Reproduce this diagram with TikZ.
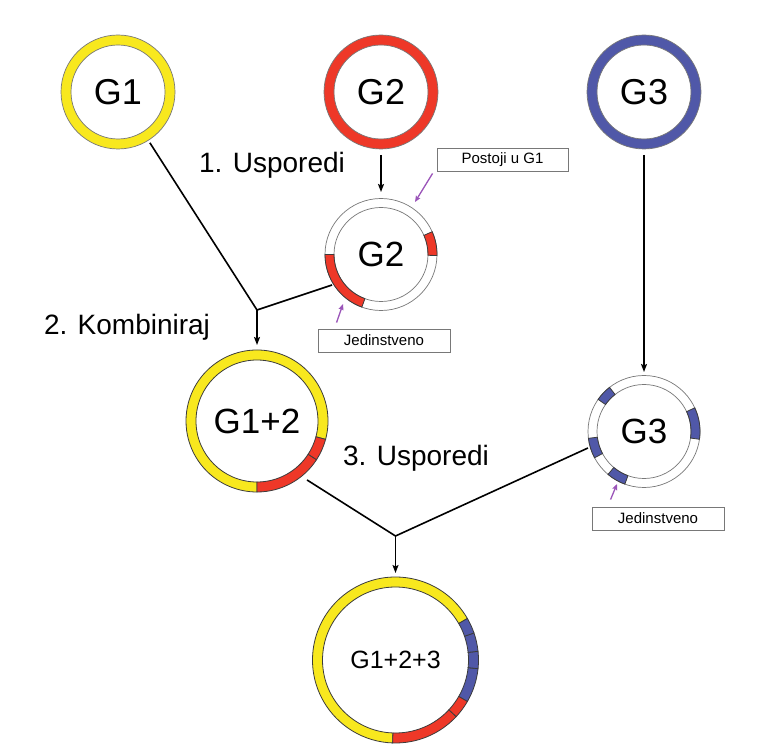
\documentclass[tikz,border=0pt]{standalone}
\usepackage{fontspec}
\setmainfont{Liberation Sans}
\usetikzlibrary{arrows.meta,calc}
\definecolor{gyel}{RGB}{248,232,30}
\definecolor{gred}{RGB}{238,56,40}
\definecolor{gblue}{RGB}{80,88,168}
\definecolor{ringgray}{RGB}{120,120,120}
\definecolor{segline}{RGB}{60,60,60}
\definecolor{arrpurple}{RGB}{155,85,185}
\newcommand\ringseg[6]{%
  \filldraw[fill=#6,draw=segline,line width=0.8pt] ([shift={(#2:#4)}]#1) arc[start angle=#2,end angle=#3,radius=#4] -- ([shift={(#3:#5)}]#1) arc[start angle=#3,end angle=#2,radius=#5] -- cycle;}
\newcommand\fullring[4]{%
  \fill[#4,even odd rule] (#1) circle[radius=#2] (#1) circle[radius=#3];
  \draw[ringgray,line width=0.7pt] (#1) circle[radius=#2] (#1) circle[radius=#3];}
\begin{document}
\begin{tikzpicture}[x=1pt,y=1pt,
  genome/.style={circle,inner sep=0pt,outer sep=0pt,text=black},
  steplabel/.style={anchor=base,font=\fontsize{28}{28}\selectfont},
  labelbox/.style={draw=ringgray,line width=0.9pt,fill=white,minimum width=131pt,minimum height=23pt,inner sep=0pt,font=\fontsize{15}{15}\selectfont},
  conn/.style={line width=1.6pt,black},
  arr/.style={conn,-{Stealth[length=8pt,width=6pt,inset=1.5pt]}},
  parr/.style={line width=1.3pt,arrpurple,-{Stealth[length=6pt,width=5pt,inset=1pt]}}]
\fill[white] (0,0) rectangle (770,750);
\useasboundingbox (0,0) rectangle (770,750);

% genome nodes
\node[genome,minimum size=114pt,font=\fontsize{36}{36}\selectfont] (g1) at (118,658) {};
\node[genome,minimum size=114pt,font=\fontsize{36}{36}\selectfont] (g2a) at (381,658) {};
\node[genome,minimum size=114pt,font=\fontsize{36}{36}\selectfont] (g3a) at (644,658) {};
\node[genome,minimum size=112pt,font=\fontsize{35}{35}\selectfont] (g2b) at (381,495.5) {};
\node[genome,minimum size=112pt,font=\fontsize{35}{35}\selectfont] (g3b) at (644,318.5) {};
\node[genome,minimum size=142pt,font=\fontsize{35}{35}\selectfont] (g12) at (257,329) {};
\node[genome,minimum size=166pt,font=\fontsize{25}{25}\selectfont] (g123) at (395.5,90) {};

% rings
\fullring{g1.center}{57}{47}{gyel}
\fullring{g2a.center}{57}{47}{gred}
\fullring{g3a.center}{57}{47}{gblue}
\fullring{g2b.center}{56}{47}{white}
\ringseg{g2b.center}{180}{250}{56}{47}{gred}
\ringseg{g2b.center}{-1}{24}{56}{47}{gred}
\fullring{g3b.center}{56}{47}{white}
\ringseg{g3b.center}{128}{145}{56}{47}{gblue}
\ringseg{g3b.center}{-8}{25}{56}{47}{gblue}
\ringseg{g3b.center}{187}{208}{56}{47}{gblue}
\ringseg{g3b.center}{230}{250}{56}{47}{gblue}
\ringseg{g12.center}{-15}{270}{71}{61}{gyel}
\ringseg{g12.center}{270}{327}{71}{61}{gred}
\ringseg{g12.center}{327}{345}{71}{61}{gred}
\ringseg{g123.center}{30}{268}{83}{73}{gyel}
\ringseg{g123.center}{-30}{-6}{83}{73}{gblue}
\ringseg{g123.center}{-6}{6}{83}{73}{gblue}
\ringseg{g123.center}{6}{19}{83}{73}{gblue}
\ringseg{g123.center}{19}{30}{83}{73}{gblue}
\ringseg{g123.center}{-92}{-43}{83}{73}{gred}
\ringseg{g123.center}{-43}{-30}{83}{73}{gred}

% genome texts
\node[font=\fontsize{36}{36}\selectfont] at (g1.center) {G1};
\node[font=\fontsize{36}{36}\selectfont] at (g2a.center) {G2};
\node[font=\fontsize{36}{36}\selectfont] at (g3a.center) {G3};
\node[font=\fontsize{35}{35}\selectfont] at (g2b.center) {G2};
\node[font=\fontsize{35}{35}\selectfont] at (g3b.center) {G3};
\node[font=\fontsize{35}{35}\selectfont] at (g12.center) {G1+2};
\node[font=\fontsize{25}{25}\selectfont] at (g123.center) {G1+2+3};

% step labels
\node[steplabel] (s1) at (272,577) {1. Usporedi};
\node[steplabel] (s2) at (127,415) {2. Kombiniraj};
\node[steplabel] (s3) at (416,284) {3. Usporedi};

% junctions
\coordinate (j1) at (257,440);
\coordinate (j2) at (395.5,214);

% connectors
\draw[arr] ([yshift=-6]g2a.south) -- ([yshift=6.5]g2b.north);
\draw[arr] ([yshift=-6]g3a.south) -- ([yshift=3.5]g3b.north);
\draw[conn] ([shift={(-57.9:60)}]g1.center) -- (j1);
\draw[conn] ([shift={(211.9:57.7)}]g2b.center) -- (j1);
\draw[arr] (j1) -- ([yshift=5]g12.north);
\draw[conn] ([shift={(-49.7:77.3)}]g12.center) -- (j2);
\draw[conn] ([shift={(196.4:58.4)}]g3b.center) -- (j2);
\draw[arr] (j2) -- ([yshift=4]g123.north);

% label boxes
\node[labelbox] (p1) at (502.5,590.5) {Postoji u G1};
\node[labelbox,minimum width=132pt] (u2) at (384,409.5) {Jedinstveno};
\node[labelbox,minimum width=132pt] (u3) at (658,231.5) {Jedinstveno};

% purple pointers
\coordinate (pt1) at (415,548);
\coordinate (pt2) at (343,446);
\coordinate (pt3) at (617,266);
\draw[parr] ([shift={(-4,-2)}]p1.south west) -- (pt1);
\draw[parr] ([shift={(19,6)}]u2.north west) -- (pt2);
\draw[parr] ([shift={(19,7)}]u3.north west) -- (pt3);
\end{tikzpicture}
\end{document}
